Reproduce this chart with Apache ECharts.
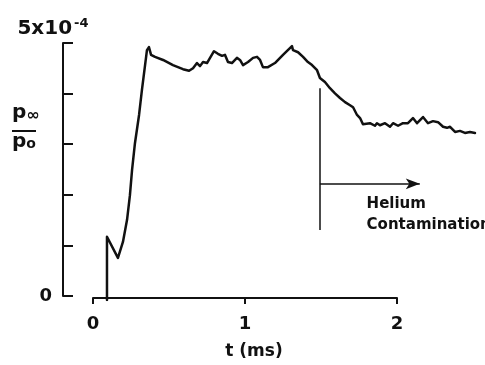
<!DOCTYPE html>
<html>
<head>
<meta charset="utf-8">
<script src="https://cdn.jsdelivr.net/npm/echarts@6/dist/echarts.min.js"></script>
<style>
  html, body { margin: 0; padding: 0; background: #fff; }
  #chart { width: 485px; height: 365px; }
</style>
</head>
<body>
<div id="chart"></div>
<script>
// Time after shock arrival (ms)
var tMs = [
  0.092, 0.092, 0.100, 0.164, 0.197, 0.224, 0.243, 0.257, 0.276, 0.303, 0.322,
  0.355, 0.368, 0.382, 0.408, 0.461, 0.526, 0.592, 0.632, 0.658, 0.684, 0.704,
  0.724, 0.750, 0.770, 0.796, 0.822, 0.849, 0.868, 0.888, 0.914, 0.947, 0.967,
  0.987, 1.020, 1.053, 1.079, 1.099, 1.118, 1.151, 1.197, 1.250, 1.309, 1.316,
  1.349, 1.382, 1.414, 1.441, 1.474, 1.493, 1.526, 1.559, 1.592, 1.625, 1.658,
  1.691, 1.711, 1.737, 1.757, 1.776, 1.822, 1.855, 1.868, 1.888, 1.921, 1.954,
  1.974, 2.007, 2.039, 2.072, 2.105, 2.132, 2.171, 2.204, 2.237, 2.270, 2.303,
  2.329, 2.349, 2.382, 2.414, 2.447, 2.480, 2.513
];
// Pressure ratio p_inf / p_0, in units of 1e-4
var pRatio = [
  0.00, 1.23, 1.22, 0.82, 1.13, 1.56, 2.04, 2.53, 3.05, 3.60, 4.09,
  4.86, 4.92, 4.77, 4.73, 4.67, 4.57, 4.49, 4.46, 4.51, 4.61, 4.55,
  4.63, 4.61, 4.71, 4.84, 4.79, 4.75, 4.77, 4.63, 4.61, 4.71, 4.67,
  4.57, 4.63, 4.71, 4.73, 4.67, 4.53, 4.53, 4.61, 4.77, 4.94, 4.86,
  4.82, 4.73, 4.63, 4.57, 4.47, 4.32, 4.24, 4.12, 4.02, 3.93, 3.85,
  3.79, 3.75, 3.60, 3.54, 3.42, 3.44, 3.39, 3.44, 3.40, 3.44, 3.37,
  3.44, 3.39, 3.44, 3.44, 3.54, 3.44, 3.56, 3.44, 3.48, 3.46, 3.37,
  3.35, 3.37, 3.27, 3.29, 3.25, 3.27, 3.25
];
// Axis ticks
var xTicks = [0, 1, 2];
var yMax = 5;
var yTopLabel = '5x10';
var yTopExponent = '-4';
// Onset of helium contamination
var heliumT = 1.493;
var heliumLine = [1.36, 4.12];
var heliumArrow = { y: 2.26, tEnd: 2.15 };
var heliumText = 'Helium\nContamination';
var heliumTextAt = [1.80, 1.67];

var font = 'DejaVu Sans';
var ink = '#111';

var trace = tMs.map(function (t, i) { return [t, pRatio[i]]; });

var chart = echarts.init(document.getElementById('chart'), null, { renderer: 'canvas' });

chart.setOption({
  animation: false,
  backgroundColor: '#fff',
  grid: [
    { left: 93, top: 43, width: 304, height: 257 },
    { left: 93, top: 43, width: 387.6, height: 257 }
  ],
  xAxis: [
    {
      gridIndex: 0, type: 'value',
      min: xTicks[0], max: xTicks[xTicks.length - 1], interval: 1,
      offset: 2,
      axisLine: { show: true, onZero: false, lineStyle: { color: ink, width: 2 } },
      axisTick: { show: true, inside: false, length: 6, lineStyle: { color: ink, width: 2 } },
      axisLabel: { fontFamily: font, fontWeight: 'bold', fontSize: 18, color: ink, margin: 17 },
      splitLine: { show: false },
      name: 't (ms)', nameLocation: 'middle', nameGap: 45,
      nameTextStyle: { fontFamily: font, fontWeight: 'bold', fontSize: 17, color: ink, padding: [0, 0, 0, 18] }
    },
    { gridIndex: 1, type: 'value', min: 0, max: 2.55, show: false }
  ],
  yAxis: [
    {
      gridIndex: 0, type: 'value', min: 0, max: yMax, interval: 1,
      offset: 30,
      axisLine: { show: true, onZero: false, lineStyle: { color: ink, width: 2 } },
      axisTick: { show: true, inside: true, length: 10, lineStyle: { color: ink, width: 2 } },
      axisLabel: {
        fontFamily: font, fontWeight: 'bold', fontSize: 18, color: ink, margin: 11,
        formatter: function (v) { return v === 0 ? '0' : ''; }
      },
      splitLine: { show: false },
      name: yTopLabel + '{sup|' + yTopExponent + '}',
      nameLocation: 'end', nameGap: 3,
      nameTextStyle: {
        fontFamily: font, fontWeight: 'bold', fontSize: 20, color: ink, padding: [0, 20, 0, 0],
        rich: { sup: { fontFamily: font, fontWeight: 'bold', fontSize: 13, color: ink, verticalAlign: 'top', padding: [0, 0, 10, 2] } }
      }
    },
    { gridIndex: 1, type: 'value', min: 0, max: yMax, show: false }
  ],
  series: [
    {
      type: 'line',
      xAxisIndex: 1, yAxisIndex: 1,
      data: trace,
      showSymbol: false,
      silent: true,
      lineStyle: { color: ink, width: 2.5, join: 'round', cap: 'round' },
      markLine: {
        silent: true,
        symbol: 'none',
        label: { show: false },
        lineStyle: { color: ink, width: 1.5, type: 'solid' },
        data: [
          [
            { coord: [heliumT, heliumLine[0]], symbol: 'none' },
            { coord: [heliumT, heliumLine[1]], symbol: 'none' }
          ],
          [
            { coord: [heliumT, heliumArrow.y], symbol: 'none' },
            { coord: [heliumArrow.tEnd, heliumArrow.y], symbol: 'arrow', symbolSize: [8, 14] }
          ]
        ]
      },
      markPoint: {
        silent: true,
        symbol: 'circle', symbolSize: 0,
        data: [{ coord: heliumTextAt }],
        label: {
          show: true, position: 'right', distance: 0,
          formatter: heliumText,
          fontFamily: font, fontWeight: 'bold', fontSize: 15, lineHeight: 21, color: ink, align: 'left'
        }
      }
    }
  ],
  graphic: [
    {
      type: 'text', left: 12, top: 103,
      style: { text: '{p|p}{s|∞}', rich: { p: { fontFamily: font, fontWeight: 'bold', fontSize: 20, fill: ink }, s: { fontFamily: font, fontWeight: 'bold', fontSize: 16, fill: ink, padding: [5, 0, 0, 0] } } }
    },
    {
      type: 'line', shape: { x1: 12, y1: 131, x2: 36, y2: 131 },
      style: { stroke: ink, lineWidth: 2 }
    },
    {
      type: 'text', left: 12, top: 132,
      style: { text: '{p|p}{s|o}', rich: { p: { fontFamily: font, fontWeight: 'bold', fontSize: 20, fill: ink }, s: { fontFamily: font, fontWeight: 'bold', fontSize: 14, fill: ink, padding: [5, 0, 0, 0] } } }
    }
  ]
});
</script>
</body>
</html>
